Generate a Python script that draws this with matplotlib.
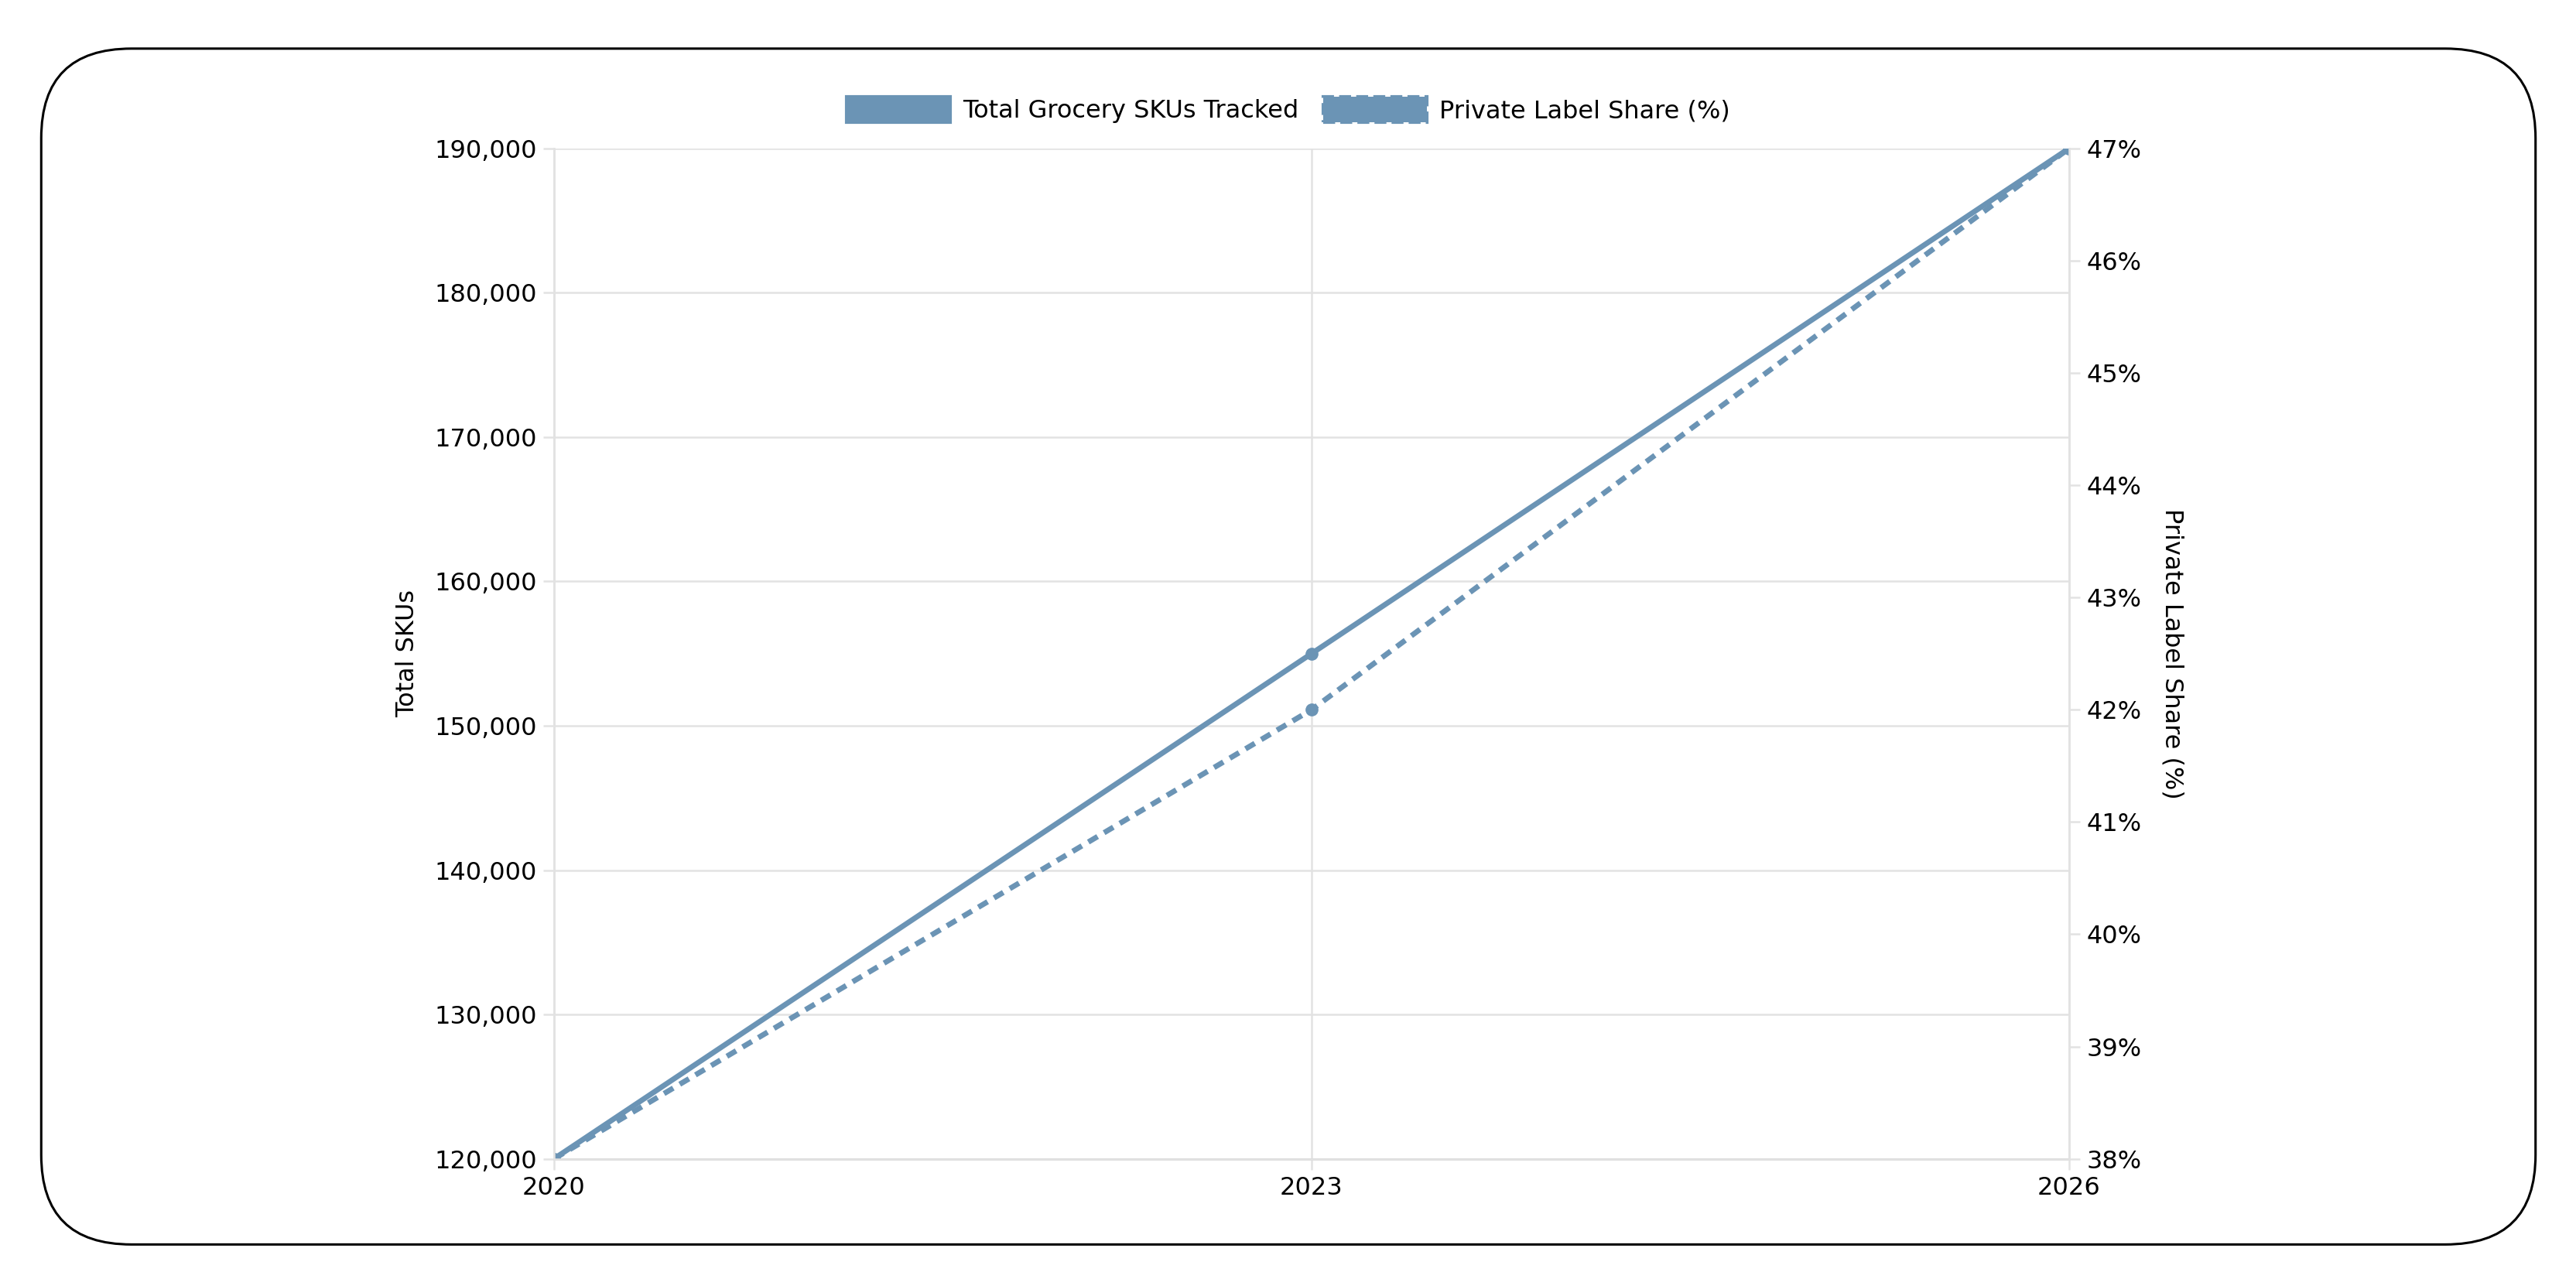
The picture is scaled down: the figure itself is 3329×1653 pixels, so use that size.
import matplotlib.pyplot as plt
from matplotlib.patches import Patch, FancyBboxPatch
from matplotlib.ticker import FuncFormatter

# Data
years = [2020, 2023, 2026]
total_skus = [120000, 155000, 190000]
private_share = [38, 42, 47]

color = "#6b94b5"
grid_c = "#e2e2e2"

fig = plt.figure(figsize=(33.3, 16.53), dpi=100)
ax = fig.add_axes([0.215, 0.094, 0.588, 0.79])
ax2 = ax.twinx()

# Rounded border
fig.patches.append(FancyBboxPatch((0.016, 0.027), 0.968, 0.935,
                                  boxstyle="round,pad=0,rounding_size=0.035",
                                  transform=fig.transFigure, fill=False,
                                  edgecolor="black", linewidth=2.2,
                                  mutation_aspect=2.0))

ax.plot(years, total_skus, color=color, linewidth=5, marker="o", markersize=11)
ax2.plot(years, private_share, color=color, linewidth=5, linestyle=(0, (2, 1.4)),
         marker="o", markersize=11)

ax.set_xlim(2020, 2026)
ax.set_ylim(120000, 190000)
ax2.set_ylim(38, 47)
ax.set_xticks(years)
ax.set_yticks(range(120000, 190001, 10000))
ax2.set_yticks(range(38, 48))
ax.yaxis.set_major_formatter(FuncFormatter(lambda v, p: f"{int(v):,}"))
ax2.yaxis.set_major_formatter(FuncFormatter(lambda v, p: f"{int(v)}%"))

ax.grid(True, color=grid_c, linewidth=1.8)
ax.set_axisbelow(True)
for a in (ax, ax2):
    a.tick_params(labelsize=23, length=10, color=grid_c, width=1.8, pad=6)
    for s in a.spines.values():
        s.set_color(grid_c)
        s.set_linewidth(1.8)
    a.spines["top"].set_visible(False)
ax.spines["bottom"].set_color("#c8c8c8")

ax.set_ylabel("Total SKUs", fontsize=23, labelpad=14)
ax2.set_ylabel("Private Label Share (%)", fontsize=23, rotation=270, labelpad=40)

handles = [Patch(facecolor=color, edgecolor=color, linewidth=3),
           Patch(facecolor=color, edgecolor=color, linewidth=3, linestyle="--")]
fig.legend(handles, ["Total Grocery SKUs Tracked", "Private Label Share (%)"],
           loc="center", bbox_to_anchor=(0.5, 0.914), ncol=2, frameon=False,
           fontsize=23, handlelength=4.2, handleheight=1.2, columnspacing=1.0,
           handletextpad=0.5)

fig.savefig("out.png", dpi=100, facecolor="white")
